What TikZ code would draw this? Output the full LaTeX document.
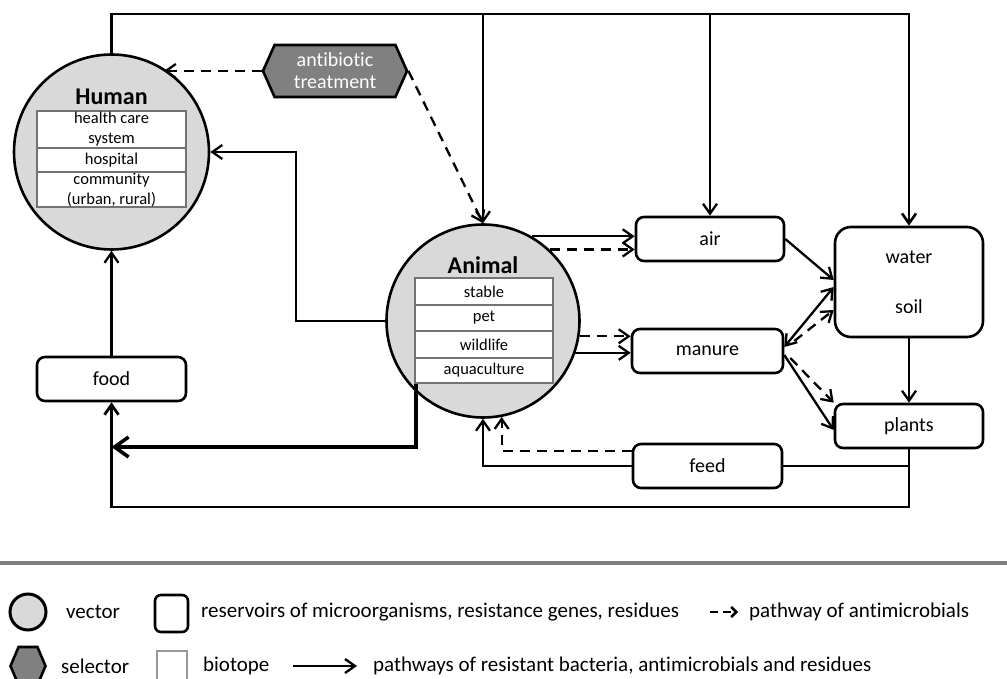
\documentclass[tikz,border=0pt]{standalone}
\usepackage{fontspec}
\setmainfont{Carlito}[Ligatures=NoCommon]
\usetikzlibrary{arrows.meta,positioning,shapes.symbols}

\begin{document}
\begin{tikzpicture}[x=1pt,y=-1pt,line width=2.3pt,
    >={Straight Barb[length=10pt,width=14pt]},
    vector/.style={circle,draw,line width=2.6pt,fill=black!15,minimum size=195pt,inner sep=0pt},
    cell/.style={draw=black!55,line width=2pt,fill=white,inner sep=0pt,align=center,font=\fontsize{16.5}{20}\selectfont},
    reservoir/.style={draw,line width=2.6pt,rounded corners=8pt,minimum width=149pt,minimum height=44pt,inner sep=0pt,font=\fontsize{20}{24}\selectfont},
    selector/.style={signal,signal to=west and east,signal pointer angle=132,draw,line width=2.6pt,fill=black!50,inner sep=0pt},
    title/.style={font=\fontsize{24}{28}\selectfont\bfseries},
    legend/.style={anchor=west,inner sep=0pt,font=\fontsize{21}{24}\selectfont},
    pathdash/.style={dashed,dash pattern=on 10pt off 7pt}]
    \useasboundingbox (0,0) rectangle (1007,679);

    % Human
    \node[vector] (human) at (111.5,152) {};
    \node[title] (humantitle) at (111.5,97) {Human};
    \node[cell,minimum width=149pt,minimum height=37pt] (care) at (111.5,129.5) {health care\\system};
    \node[cell,minimum width=149pt,minimum height=24pt] (hospital) at (111.5,160) {hospital};
    \node[cell,minimum width=149pt,minimum height=35pt] (community) at (111.5,189.5) {community\\(urban, rural)};

    % antibiotic treatment
    \node[selector,minimum width=144pt,minimum height=52pt,text=white,align=center,
          font=\fontsize{20}{22}\selectfont] (anti) at (335,71) {antibiotic\\treatment};

    % Animal
    \node[vector,minimum size=193pt] (animal) at (483,321) {};
    \node[title] (animaltitle) at (483,265) {Animal};
    \node[cell,minimum width=138pt,minimum height=27pt] (stable) at (484,291.5) {stable};
    \node[cell,minimum width=138pt,minimum height=26pt] (pet) at (484,318) {pet};
    \node[cell,minimum width=138pt,minimum height=27pt] (wildlife) at (484,344.5) {wildlife};
    \node[cell,minimum width=138pt,minimum height=25pt] (aqua) at (484,370.5) {aquaculture};

    % reservoirs
    \node[reservoir] (food) at (111.5,379) {food};
    \node[reservoir,minimum width=148pt] (air) at (710,239) {air};
    \node[reservoir,minimum width=151pt] (manure) at (707.5,351) {manure};
    \node[reservoir,rounded corners=16pt,minimum width=148pt,minimum height=110pt,align=center,
          font=\fontsize{20}{50}\selectfont] (water) at (909,282) {water\\soil};
    \node[reservoir,minimum width=148pt] (plants) at (909,426) {plants};
    \node[reservoir] (feed) at (707.5,466) {feed};

    % top line
    \coordinate (topleft) at (111.5,14);
    \coordinate (topright) at (909,14);
    \draw[->,line width=2.6pt] (human.north) -- (topleft) -- (topright) -- (water.north);
    \draw[->] (animal.north |- topleft) -- (animal.north);
    \draw[->] (air.north |- topleft) -- (air.north);

    % antibiotics
    \draw[pathdash,->] (anti.west) -- (anti.west -| human.58);
    \draw[pathdash,->] (anti.east) -- (animal.north);

    % animal to human
    \draw[->] (animal.west) -- ++(-89,0) |- (human.east);

    % animal to air and manure
    \draw[->] (animal.60) -- (animal.60 -| air.west);
    \draw[pathdash,->] (animal.47) -- (animal.47 -| air.west);
    \draw[pathdash,->] (animal.-9) -- (animal.-9 -| manure.west);
    \draw[->] (animal.-19) -- (animal.-19 -| manure.west);

    % into water and plants
    \draw[->] (air.east) -- ([yshift=2pt]water.west);
    \draw[<->] ([yshift=4pt]manure.east) -- ([yshift=-5pt]water.west);
    \draw[pathdash,->] ([xshift=10pt,yshift=10pt]manure.east) -- ([yshift=-28pt]water.west);
    \draw[->] ([yshift=-4pt]manure.east) -- ([yshift=-4pt]plants.west);
    \draw[pathdash,->] ([xshift=6pt,yshift=-7pt]manure.east) -- (plants.north west);
    \draw[->] (water.south) -- (plants.north);

    % feed
    \draw (plants.south) |- (feed.east);
    \draw[->] (feed.west) -| (animal.south);
    \draw[pathdash,->] ([yshift=15pt]feed.west) -| (animal.-79);

    % bottom loop to food
    \coordinate (bottomleft) at (111.5,507);
    \draw[->,line width=2.8pt] (plants.south) -- (plants.south |- bottomleft) -- (bottomleft) -- (food.south);
    \draw[->] (food.north) -- (human.south);
    \coordinate (foodin) at (111.5,447);
    \draw[line width=3.6pt,->,>={Straight Barb[length=14pt,width=20pt]}] ([xshift=2pt]aqua.south west) |- (foodin);

    % legend
    \draw[line width=4pt,black!50] (0,563) -- (1007,563);
    \node[vector,minimum size=36pt,line width=3pt] (keyvector) at (28,612) {};
    \node[legend] (keyvectortext) at (65,612) {vector};
    \node[draw,line width=2.6pt,rounded corners=6pt,minimum width=33pt,minimum height=37pt] (keyreservoir) at (171.5,613.5) {};
    \node[legend] (keyreservoirtext) at (200,612) {reservoirs of microorganisms, resistance genes, residues};
    \coordinate (keydashfrom) at (710,612);
    \coordinate (keydashto) at (738,612);
    \draw[pathdash,dash pattern=on 8pt off 5pt,line width=2.6pt,-{Straight Barb[length=5pt,width=10pt]}] (keydashfrom) -- (keydashto);
    \node[legend] (keydashtext) at (748,612) {pathway of antimicrobials};
    \node[selector,minimum width=35pt,minimum height=38pt,signal pointer angle=134] (keyselector) at (28,666) {};
    \node[legend] (keyselectortext) at (60,666) {selector};
    \node[draw=black!40,line width=2pt,minimum size=30pt,inner sep=0pt] (keybiotope) at (172,666) {};
    \node[legend] (keybiotopetext) at (202,666) {biotope};
    \coordinate (keyarrowfrom) at (293,666);
    \coordinate (keyarrowto) at (357,666);
    \draw[->] (keyarrowfrom) -- (keyarrowto);
    \node[legend] (keyarrowtext) at (372,666) {pathways of resistant bacteria, antimicrobials and residues};
\end{tikzpicture}
\end{document}
